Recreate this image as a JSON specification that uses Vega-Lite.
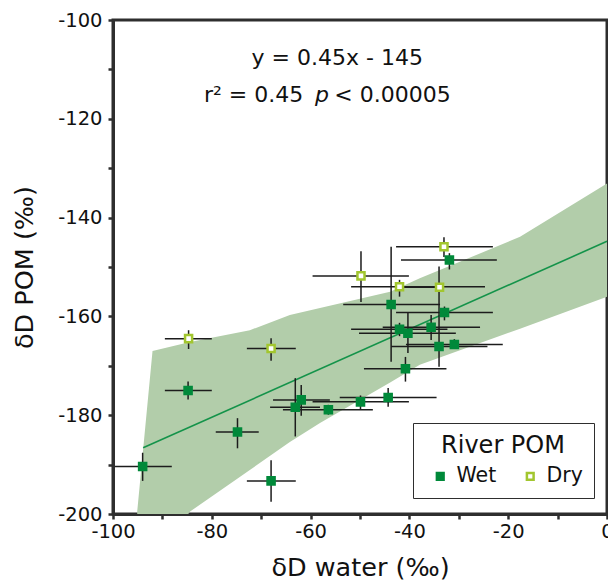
{
  "$schema": "https://vega.github.io/schema/vega-lite/v6.json",
  "width": 494,
  "height": 494,
  "autosize": {"type": "none"},
  "padding": {"left": 113, "top": 20, "right": 1, "bottom": 69},
  "config": {
    "font": "DejaVu Sans",
    "view": {"stroke": "#2e2e2e", "strokeWidth": 3},
    "axis": {
      "grid": false,
      "domainColor": "#2e2e2e",
      "domainWidth": 3,
      "tickColor": "#2e2e2e",
      "tickWidth": 2.5,
      "tickSize": 5,
      "labelFontSize": 19.5,
      "labelColor": "#111111",
      "labelFlush": false,
      "labelOverlap": false,
      "titleFontSize": 25.5,
      "titleFontWeight": "normal",
      "titleColor": "#111111"
    }
  },
  "datasets": {
    "pts": [
      {"type": "Wet", "x": -31.9, "y": -148.6, "xlo": -41.7, "xhi": -22.3, "ylo": -150.5, "yhi": -147.2},
      {"type": "Wet", "x": -43.7, "y": -157.6, "xlo": -53.4, "xhi": -33.8, "ylo": -169.2, "yhi": -145.9},
      {"type": "Wet", "x": -32.9, "y": -159.2, "xlo": -42.7, "xhi": -23.1, "ylo": -160.8, "yhi": -158.0},
      {"type": "Wet", "x": -42.0, "y": -162.6, "xlo": -51.8, "xhi": -32.3, "ylo": -164.0, "yhi": -161.3},
      {"type": "Wet", "x": -40.3, "y": -163.4, "xlo": -50.2, "xhi": -30.6, "ylo": -167.4, "yhi": -159.3},
      {"type": "Wet", "x": -35.6, "y": -162.2, "xlo": -45.4, "xhi": -25.7, "ylo": -164.8, "yhi": -159.7},
      {"type": "Wet", "x": -30.9, "y": -165.7, "xlo": -40.7, "xhi": -21.1, "ylo": -166.6, "yhi": -164.6},
      {"type": "Wet", "x": -34.0, "y": -166.1, "xlo": -43.7, "xhi": -24.2, "ylo": -170.2, "yhi": -149.9},
      {"type": "Wet", "x": -40.8, "y": -170.6, "xlo": -49.2, "xhi": -32.5, "ylo": -173.2, "yhi": -168.2},
      {"type": "Wet", "x": -44.3, "y": -176.4, "xlo": -54.1, "xhi": -34.5, "ylo": -178.3, "yhi": -174.5},
      {"type": "Wet", "x": -49.9, "y": -177.3, "xlo": -59.6, "xhi": -40.1, "ylo": -178.8, "yhi": -176.0},
      {"type": "Wet", "x": -56.4, "y": -178.9, "xlo": -65.6, "xhi": -47.4, "ylo": -179.9, "yhi": -177.9},
      {"type": "Wet", "x": -61.9, "y": -176.9, "xlo": -67.6, "xhi": -56.1, "ylo": -180.1, "yhi": -173.9},
      {"type": "Wet", "x": -63.1, "y": -178.4, "xlo": -68.2, "xhi": -58.1, "ylo": -184.3, "yhi": -172.5},
      {"type": "Wet", "x": -74.8, "y": -183.4, "xlo": -79.2, "xhi": -70.5, "ylo": -186.7, "yhi": -180.6},
      {"type": "Wet", "x": -94.0, "y": -190.4, "xlo": -99.6, "xhi": -88.1, "ylo": -193.3, "yhi": -187.6},
      {"type": "Wet", "x": -68.0, "y": -193.3, "xlo": -72.9, "xhi": -63.0, "ylo": -197.5, "yhi": -189.1},
      {"type": "Wet", "x": -84.8, "y": -175.0, "xlo": -89.5, "xhi": -80.0, "ylo": -176.8, "yhi": -173.2},
      {"type": "Dry", "x": -33.0, "y": -145.9, "xlo": -42.7, "xhi": -23.1, "ylo": -148.0, "yhi": -144.0},
      {"type": "Dry", "x": -49.8, "y": -151.8, "xlo": -59.6, "xhi": -40.1, "ylo": -157.1, "yhi": -146.8},
      {"type": "Dry", "x": -42.0, "y": -154.0, "xlo": -51.8, "xhi": -24.7, "ylo": -156.0, "yhi": -152.6},
      {"type": "Dry", "x": -33.9, "y": -154.1, "xlo": -42.0, "xhi": -33.0, "ylo": -155.0, "yhi": -153.2},
      {"type": "Dry", "x": -84.7, "y": -164.5, "xlo": -89.5, "xhi": -80.0, "ylo": -166.6, "yhi": -162.8},
      {"type": "Dry", "x": -68.0, "y": -166.5, "xlo": -72.9, "xhi": -63.0, "ylo": -169.0, "yhi": -164.4}
    ],
    "band": [
      {"x": -95.1, "lo": -215, "hi": -199.5},
      {"x": -92.0, "lo": -210, "hi": -167.0},
      {"x": -84.4, "lo": -199.5, "hi": -165.2},
      {"x": -72.3, "lo": -191.1, "hi": -162.8},
      {"x": -64.2, "lo": -185.4, "hi": -159.7},
      {"x": -58.1, "lo": -181.6, "hi": -158.3},
      {"x": -43.9, "lo": -173.4, "hi": -155.0},
      {"x": -37.9, "lo": -169.8, "hi": -152.3},
      {"x": -17.6, "lo": -162.5, "hi": -143.9},
      {"x": 0, "lo": -156.0, "hi": -133.1}
    ],
    "fit": [
      {"x": -93.9, "y": -186.6},
      {"x": 0, "y": -144.8}
    ],
    "notes": [
      {"role": "c", "x": -54.6, "y": -109.1, "t": "y = 0.45x - 145"},
      {"role": "l", "x": -81.6, "y": -116.5, "t": "r² = 0.45"},
      {"role": "i", "x": -59.1, "y": -116.5, "t": "p"},
      {"role": "l", "x": -55.2, "y": -116.5, "t": "< 0.00005"}
    ]
  },
  "layer": [
    {
      "data": {"name": "band"},
      "mark": {"type": "area", "color": "#b2cdaa", "opacity": 1, "clip": true},
      "encoding": {
        "x": {"field": "x", "type": "quantitative", "scale": {"domain": [-100, 0], "nice": false, "zero": false},
          "axis": {"values": [-100, -90, -80, -70, -60, -50, -40, -30, -20, -10, 0], "labelExpr": "datum.value % 20 === 0 ? toString(datum.value) : ''", "title": "δD water (‰)", "titlePadding": 15, "labelPadding": 3}},
        "y": {"field": "lo", "type": "quantitative", "scale": {"domain": [-200, -100], "nice": false, "zero": false},
          "axis": {"values": [-200, -190, -180, -170, -160, -150, -140, -130, -120, -110, -100], "labelExpr": "datum.value % 20 === 0 ? toString(datum.value) : ''", "title": "δD POM (‰)", "titlePadding": 20, "labelPadding": 6}},
        "y2": {"field": "hi"}
      }
    },
    {
      "data": {"name": "fit"},
      "mark": {"type": "line", "color": "#14934a", "strokeWidth": 1.6},
      "encoding": {
        "x": {"field": "x", "type": "quantitative"},
        "y": {"field": "y", "type": "quantitative"}
      }
    },
    {
      "data": {"name": "pts"},
      "mark": {"type": "rule", "color": "#1c1c1c", "strokeWidth": 1.5},
      "encoding": {
        "x": {"field": "xlo", "type": "quantitative"},
        "x2": {"field": "xhi"},
        "y": {"field": "y", "type": "quantitative"}
      }
    },
    {
      "data": {"name": "pts"},
      "mark": {"type": "rule", "color": "#1c1c1c", "strokeWidth": 1.5},
      "encoding": {
        "x": {"field": "x", "type": "quantitative"},
        "y": {"field": "ylo", "type": "quantitative"},
        "y2": {"field": "yhi"}
      }
    },
    {
      "data": {"name": "pts"},
      "mark": {"type": "point", "shape": "square", "size": 50, "strokeWidth": 2.5, "opacity": 1, "fillOpacity": 1, "strokeOpacity": 1},
      "encoding": {
        "x": {"field": "x", "type": "quantitative"},
        "y": {"field": "y", "type": "quantitative"},
        "fill": {"field": "type", "type": "nominal", "scale": {"domain": ["Wet", "Dry"], "range": ["#00893a", "#ffffff"]}, "title": "River POM"},
        "stroke": {"field": "type", "type": "nominal", "scale": {"domain": ["Wet", "Dry"], "range": ["#00893a", "#a2c62f"]}, "title": "River POM",
          "legend": {"orient": "none", "legendX": 300, "legendY": 403, "direction": "horizontal", "columns": 2, "columnPadding": 17, "labelOffset": 6, "symbolOffset": 6, "symbolSize": 45, "symbolStrokeWidth": 2.5, "symbolType": "square", "titleFontSize": 24, "titleFontWeight": "normal", "titleColor": "#111111", "labelFontSize": 20.5, "labelColor": "#111111", "titleAnchor": "middle", "titlePadding": 8, "padding": 11, "strokeColor": "#2e2e2e",
            "encode": {"legend": {"update": {"strokeWidth": {"value": 2.5}}}}}}
      }
    },
    {
      "data": {"name": "notes"},
      "transform": [{"filter": "datum.role === 'c'"}],
      "mark": {"type": "text", "fontSize": 22, "baseline": "alphabetic", "align": "center", "color": "#111111"},
      "encoding": {
        "x": {"field": "x", "type": "quantitative"},
        "y": {"field": "y", "type": "quantitative"},
        "text": {"field": "t"}
      }
    },
    {
      "data": {"name": "notes"},
      "transform": [{"filter": "datum.role === 'l'"}],
      "mark": {"type": "text", "fontSize": 22, "baseline": "alphabetic", "align": "left", "color": "#111111"},
      "encoding": {
        "x": {"field": "x", "type": "quantitative"},
        "y": {"field": "y", "type": "quantitative"},
        "text": {"field": "t"}
      }
    },
    {
      "data": {"name": "notes"},
      "transform": [{"filter": "datum.role === 'i'"}],
      "mark": {"type": "text", "fontSize": 22, "baseline": "alphabetic", "align": "left", "fontStyle": "italic", "color": "#111111"},
      "encoding": {
        "x": {"field": "x", "type": "quantitative"},
        "y": {"field": "y", "type": "quantitative"},
        "text": {"field": "t"}
      }
    }
  ]
}
